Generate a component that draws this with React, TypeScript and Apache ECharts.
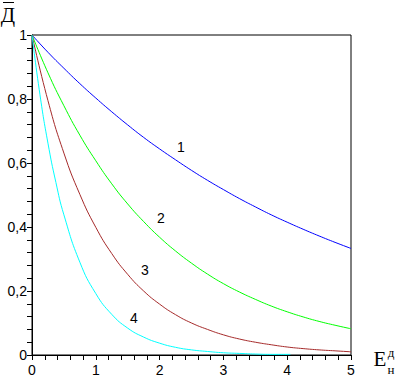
import React, { useEffect, useRef } from "react";
import * as echarts from "echarts";

const xValues = [0, 0.25, 0.5, 0.75, 1, 1.25, 1.5, 1.75, 2, 2.25, 2.5, 2.75, 3, 3.25, 3.5, 3.75, 4, 4.25, 4.5, 4.75, 5];
const curve1 = [1, 0.946, 0.896, 0.848, 0.803, 0.76, 0.719, 0.68, 0.644, 0.61, 0.577, 0.546, 0.517, 0.489, 0.463, 0.438, 0.415, 0.393, 0.372, 0.352, 0.333];
const curve2 = [1, 0.882, 0.779, 0.687, 0.607, 0.535, 0.472, 0.417, 0.368, 0.325, 0.287, 0.253, 0.223, 0.197, 0.174, 0.153, 0.135, 0.119, 0.105, 0.093, 0.082];
const curve3 = [1, 0.795, 0.631, 0.502, 0.399, 0.317, 0.252, 0.2, 0.159, 0.126, 0.1, 0.08, 0.063, 0.05, 0.04, 0.032, 0.025, 0.02, 0.016, 0.013, 0.01];
const curve4X = [0, 0.125, 0.25, 0.375, 0.5, 0.75, 1, 1.25, 1.5, 1.75, 2, 2.25, 2.5, 2.75, 3, 3.25, 3.5, 3.75, 4, 4.05];
const curve4 = [1, 0.813, 0.662, 0.539, 0.438, 0.29, 0.192, 0.127, 0.084, 0.056, 0.037, 0.024, 0.016, 0.011, 0.007, 0.005, 0.003, 0.002, 0.002, 0.002];
const curveNames = ["1", "2", "3", "4"];
const curveColors = ["#0000ff", "#00ff00", "#a52a2a", "#00ffff"];
const xTicks = { min: 0, max: 5, interval: 1 };
const yTicks = { min: 0, max: 1, interval: 0.2 };

const pairs = (xs: number[], ys: number[]) => ys.map((y, i) => [xs[i], y]);

export default function App() {
  const ref = useRef<HTMLDivElement>(null);
  useEffect(() => {
    if (!ref.current) return;
    const chart = echarts.init(ref.current, null, { renderer: "svg" });
    const axisCommon = {
      type: "value" as const,
      axisLine: { show: true, onZero: false, lineStyle: { color: "#000", width: 1 } },
      axisTick: { show: true, inside: false, length: 5, lineStyle: { color: "#000" } },
      minorTick: { show: true, splitNumber: 5, length: 5, lineStyle: { color: "#000" } },
      splitLine: { show: false },
      minorSplitLine: { show: false },
    };
    const seriesData = [
      pairs(xValues, curve1),
      pairs(xValues, curve2),
      pairs(xValues, curve3),
      pairs(curve4X, curve4),
    ];
    chart.setOption({
      animation: false,
      backgroundColor: "#fff",
      grid: {
        left: 32,
        right: 53,
        top: 35,
        bottom: 27,
        show: true,
        borderColor: "#000",
        borderWidth: 1,
        backgroundColor: "transparent",
      },
      xAxis: {
        ...axisCommon,
        ...xTicks,
        axisLabel: {
          color: "#000",
          fontFamily: "Liberation Sans",
          fontSize: 14,
          margin: 8,
          showMinLabel: true,
          showMaxLabel: true,
          formatter: (v: number) => String(v),
        },
      },
      yAxis: {
        ...axisCommon,
        ...yTicks,
        axisLabel: {
          color: "#000",
          fontFamily: "Liberation Sans",
          fontSize: 14,
          margin: 5,
          showMinLabel: true,
          showMaxLabel: true,
          formatter: (v: number) => (v === 0 || v === 1 ? String(v) : v.toFixed(1).replace(".", ",")),
        },
      },
      series: seriesData.map((d, i) => ({
        type: "line",
        name: curveNames[i],
        data: d,
        showSymbol: false,
        smooth: 0.5,
        lineStyle: { color: curveColors[i], width: 1 },
        itemStyle: { color: curveColors[i] },
      })),
      graphic: [
        { type: "text", x: 181, y: 147, style: { text: "1", font: "14px 'Liberation Sans'", fill: "#000", align: "center", verticalAlign: "middle" } },
        { type: "text", x: 161, y: 218, style: { text: "2", font: "14px 'Liberation Sans'", fill: "#000", align: "center", verticalAlign: "middle" } },
        { type: "text", x: 145, y: 270, style: { text: "3", font: "14px 'Liberation Sans'", fill: "#000", align: "center", verticalAlign: "middle" } },
        { type: "text", x: 134, y: 318, style: { text: "4", font: "14px 'Liberation Sans'", fill: "#000", align: "center", verticalAlign: "middle" } },
        { type: "text", x: 8, y: 15, style: { text: "Д", font: "21px 'Liberation Serif'", fill: "#000", align: "center", verticalAlign: "middle" } },
        { type: "line", shape: { x1: 3, y1: 2.5, x2: 14, y2: 2.5 }, style: { stroke: "#000", lineWidth: 1 } },
        { type: "text", x: 380, y: 359, style: { text: "Е", font: "21px 'Liberation Serif'", fill: "#000", align: "center", verticalAlign: "middle" } },
        { type: "text", x: 391, y: 352, style: { text: "д", font: "13px 'Liberation Serif'", fill: "#000", align: "center", verticalAlign: "middle" } },
        { type: "text", x: 391, y: 369, style: { text: "н", font: "13px 'Liberation Serif'", fill: "#000", align: "center", verticalAlign: "middle" } },
      ],
    });
    return () => chart.dispose();
  }, []);
  return <div ref={ref} style={{ width: 404, height: 382, position: "absolute", left: 0, top: 0 }} />;
}
